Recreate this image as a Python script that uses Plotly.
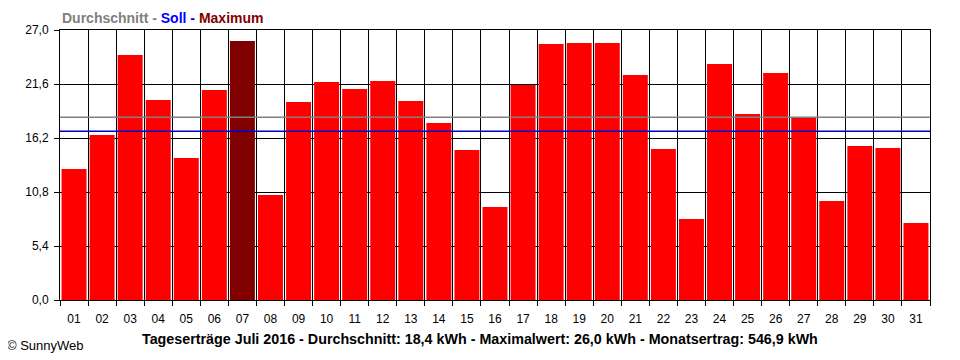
import plotly.graph_objects as go

days = [f"{d:02d}" for d in range(1, 32)]
yields_kwh = [13.1, 16.5, 24.5, 20.0, 14.2, 21.0, 25.9, 10.5, 19.8, 21.8,
              21.1, 21.9, 19.9, 17.7, 15.0, 9.3, 21.5, 25.6, 25.7, 25.7,
              22.5, 15.1, 8.1, 23.6, 18.6, 22.7, 18.2, 9.9, 15.4, 15.2, 7.7]
max_day = "07"
average_line = 18.27
target_line = 16.87
y_ticks = [0.0, 5.4, 10.8, 16.2, 21.6, 27.0]
y_ticklabels = ["0,0", "5,4", "10,8", "16,2", "21,6", "27,0"]

colors = ["#800000" if d == max_day else "#ff0000" for d in days]

FONT = "Liberation Sans, Arial, sans-serif"

fig = go.Figure()
fig.add_trace(go.Bar(
    x=days, y=yields_kwh, marker=dict(color=colors, line=dict(width=0)),
    hoverinfo="x+y", showlegend=False,
))

fig.add_shape(type="line", xref="paper", x0=0, x1=1, yref="y",
              y0=average_line, y1=average_line,
              line=dict(color="#808080", width=1.5), layer="above")
fig.add_shape(type="line", xref="paper", x0=0, x1=1, yref="y",
              y0=target_line, y1=target_line,
              line=dict(color="#0000cc", width=1.5), layer="above")

fig.update_layout(
    width=952, height=352,
    margin=dict(l=52, r=30, t=22, b=60),
    paper_bgcolor="white", plot_bgcolor="white",
    bargap=0.11,
    font=dict(family=FONT, size=12, color="black"),
    xaxis=dict(
        type="category", tickson="boundaries", showgrid=True,
        gridcolor="black", gridwidth=1,
        ticks="outside", ticklen=5, tickcolor="black",
        showline=True, linecolor="black", linewidth=1, mirror=True,
        tickfont=dict(size=12), ticklabelstandoff=8,
    ),
    yaxis=dict(
        range=[0, 27], tickvals=y_ticks, ticktext=y_ticklabels,
        showgrid=True, gridcolor="black", gridwidth=1,
        zeroline=False, ticks="outside", ticklen=5, tickcolor="black",
        showline=True, linecolor="black", linewidth=1, mirror=True,
        tickfont=dict(size=12), ticklabelstandoff=3,
    ),
)

fig.add_annotation(
    xref="paper", yref="paper", x=0, y=1, yshift=2,
    xanchor="left", yanchor="bottom", showarrow=False,
    text=("<b><span style='color:#808080'>Durchschnitt - </span>"
          "<span style='color:#0000ff'>Soll - </span>"
          "<span style='color:#800000'>Maximum</span></b>"),
    font=dict(size=14),
)
fig.add_annotation(
    xref="paper", yref="paper", x=0.483, y=0, yshift=-39,
    xanchor="center", yanchor="middle", showarrow=False,
    text="<b>Tageserträge Juli 2016 - Durchschnitt: 18,4 kWh - Maximalwert: 26,0 kWh - Monatsertrag: 546,9 kWh</b>",
    font=dict(size=14.3),
)
fig.add_annotation(
    xref="paper", yref="paper", x=0, xshift=-55, y=0, yshift=-45,
    xanchor="left", yanchor="middle", showarrow=False,
    text="© SunnyWeb", font=dict(size=13),
)

fig.write_html("out.html")
